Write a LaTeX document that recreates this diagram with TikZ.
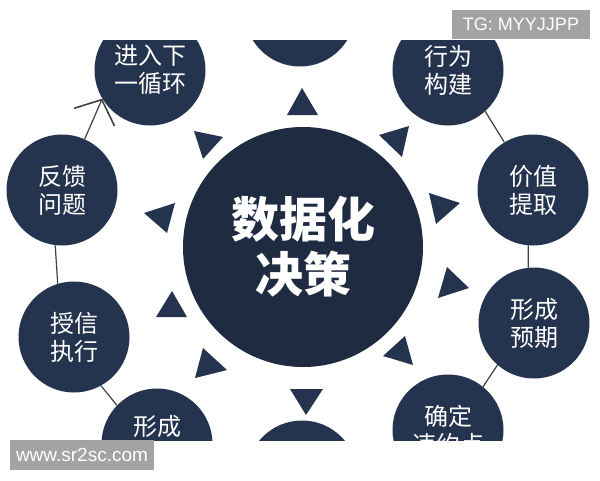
\documentclass[tikz,border=0pt]{standalone}
\usepackage{fontspec}
\setmainfont{Liberation Sans}
\newfontfamily\cjk{Noto Sans CJK SC}
\usetikzlibrary{arrows.meta}
\definecolor{navy}{HTML}{24344E}
\definecolor{deepnavy}{HTML}{1E2B41}
\definecolor{markgray}{HTML}{A3A3A3}
\tikzset{
	bubble/.style={circle, fill=navy, minimum size=111pt, inner sep=0pt, text=white, align=center, font=\cjk\fontsize{24}{28}\selectfont},
	link/.style={line width=1.2pt, color=black!75},
	stamp/.style={fill=markgray, text=white, inner sep=0pt, font=\fontsize{18}{18}\selectfont}
}

\begin{document}
\begin{tikzpicture}[x=1pt, y=-1pt]
			%%%%% START %%%%%
			
			\useasboundingbox (0,0) rectangle (600,480);
			
			\begin{scope}
			\clip (0,40) rectangle (600,440);
			
			% centre
			\node[circle, fill=deepnavy, minimum size=240pt, inner sep=0pt, text=white, align=center, font=\cjk\bfseries\fontsize{48}{55}\selectfont] (core) at (303,247) {数据化\\决策};
			
			% ring
			\node[bubble] (topc) at (300,11) {};
			\node[bubble] (xw) at (448,70) {行为\\构建};
			\node[bubble] (jz) at (533,190) {价值\\提取};
			\node[bubble] (xq) at (534,323) {形成\\预期};
			\node[bubble] (qd) at (448,430) {确定\\违约点};
			\node[bubble] (botc) at (302,476) {};
			\node[bubble] (xc) at (157,444) {形成\\\strut};
			\node[bubble] (sx) at (74,337) {授信\\执行};
			\node[bubble] (fk) at (62,190) {反馈\\问题};
			\node[bubble] (jr) at (150,70) {进入下\\一循环};
			
			\draw[link, -{Straight Barb[length=19pt, width=44pt, line width=1.6pt]}] (fk.66) -- (jr.211);
			\draw[link] (fk.-97) -- (sx.107);
			\draw[link] (sx.-61) -- (xc.136);
			\draw[link] (xw.-48) -- (jz.121);
			\draw[link] (jz.-95) -- (xq.96);
			\draw[link] (xq.-131) -- (qd.51);
			
			% triangles round the centre
			\fill[navy] (302,88) -- (287,115) -- (318,115) -- cycle;
			\fill[navy] (409,126) -- (379,135) -- (402,157) -- cycle;
			\fill[navy] (460,203) -- (429,193) -- (436,224) -- cycle;
			\fill[navy] (469,288) -- (447,267) -- (438,298) -- cycle;
			\fill[navy] (413,365) -- (405,336) -- (383,356) -- cycle;
			\fill[navy] (306,415) -- (290,389) -- (323,389) -- cycle;
			\fill[navy] (195,378) -- (203,348) -- (227,370) -- cycle;
			\fill[navy] (172,291) -- (156,317) -- (187,317) -- cycle;
			\fill[navy] (144,213) -- (175,203) -- (167,233) -- cycle;
			\fill[navy] (194,131) -- (223,137) -- (203,159) -- cycle;
			\end{scope}
			
			% marks
			\node[stamp, minimum width=138pt, minimum height=29pt] (tg) at (521,24.5) {TG: MYYJJPP};
			\node[stamp, minimum width=144pt, minimum height=30pt, font=\fontsize{19}{19}\selectfont] (site) at (82,455) {www.sr2sc.com};
			
			%%%%% END %%%%%
\end{tikzpicture}
\end{document}
